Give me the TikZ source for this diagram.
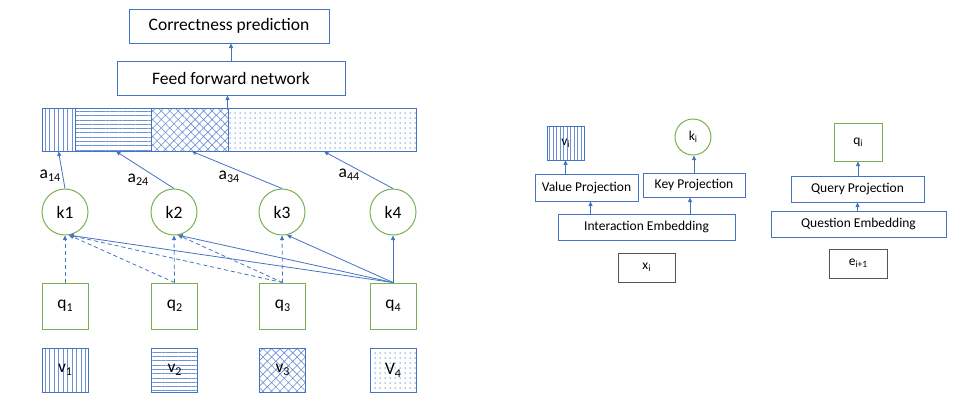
\documentclass[tikz,border=0pt]{standalone}
\usepackage{fontspec}
\setmainfont{Carlito}
\usetikzlibrary{arrows.meta,patterns.meta,calc}
\definecolor{bl}{RGB}{68,114,196}
\definecolor{lbl}{RGB}{110,145,210}
\definecolor{gr}{RGB}{122,176,82}
\definecolor{gy}{RGB}{85,85,85}
\newcommand\lsub[1]{\raisebox{-3pt}{\fontsize{12}{12}\selectfont #1}}
\newcommand\ssub[1]{\raisebox{-2.2pt}{\fontsize{9.5}{10}\selectfont #1}}
\begin{document}
\begin{tikzpicture}[x=1pt,y=-1pt,
  big/.style={font=\fontsize{17.5}{20}\selectfont},
  small/.style={font=\fontsize{13.5}{16}\selectfont},
  blbox/.style={draw=bl, line width=1pt, inner sep=0pt},
  gybox/.style={draw=gy, line width=1pt, inner sep=0pt},
  kcirc/.style={circle, draw=gr, line width=1pt, inner sep=0pt},
  qbox/.style={draw=gr, line width=1pt, inner sep=0pt},
  seg/.style={blbox, minimum height=43pt},
  vlines/.style={pattern={Lines[angle=90,distance=4.5pt,line width=0.7pt]}, pattern color=lbl},
  hlines/.style={pattern={Lines[angle=0,distance=4.3pt,line width=0.7pt]}, pattern color=lbl},
  xhatch/.style={pattern={Hatch[angle=45,distance=6pt,line width=0.6pt]}, pattern color=lbl},
  dotted4/.style={pattern={Dots[distance=5pt,radius=0.75pt]}, pattern color=lbl},
  arr/.style={-{Triangle[length=4.5pt,width=4pt]}, draw=bl, line width=0.8pt},
  dsh/.style={arr, dash pattern=on 4pt off 3pt}
]
\useasboundingbox (0,0) rectangle (976,408);

% top boxes
\node[blbox, big, minimum width=200pt, minimum height=34pt] (cp) at (229,26) {Correctness prediction};
\node[blbox, big, minimum width=228pt, minimum height=34pt] (ffn) at (231,78) {Feed forward network};

% bar
\node[seg, vlines, minimum width=33pt] (s1) at (58.5,129.5) {};
\node[seg, hlines, minimum width=76pt] (s2) at (113,129.5) {};
\node[seg, xhatch, minimum width=76.5pt] (s3) at (189.75,129.5) {};
\node[seg, dotted4, minimum width=188pt] (s4) at (322,129.5) {};

\draw[arr] (s4.north west) -- (s4.north west |- ffn.south);
\draw[arr] (ffn.north) -- (ffn.north |- cp.south);

% keys
\foreach \n/\x in {1/65,2/174,3/282,4/393}{
  \node[kcirc, big, minimum size=46pt] (k\n) at (\x,212) {k\n};
}
% queries
\foreach \n/\x in {1/65,2/174.5,3/282.5,4/393}{
  \node[qbox, big, minimum width=46pt, minimum height=46pt] (q\n) at (\x,306) {q\lsub{\n}};
}
% values
\node[blbox, big, vlines, minimum width=46pt, minimum height=44pt] (v1) at (65,370) {v\lsub{1}};
\node[blbox, big, hlines, minimum width=46pt, minimum height=44pt] (v2) at (174.5,370) {v\lsub{2}};
\node[blbox, big, xhatch, minimum width=46pt, minimum height=44pt] (v3) at (282.5,370) {v\lsub{3}};
\node[blbox, big, dotted4, minimum width=46pt, minimum height=44pt] (v4) at (393,370) {V\lsub{4}};

% attention arrows to bar
\draw[arr] (k1.north) -- (s1.south);
\draw[arr] (k2.north) -- ($(s2.south)+(3,0)$);
\draw[arr] (k3.north) -- ($(s3.south)+(2,0)$);
\draw[arr] (k4.north) -- ($(s4.south)+(2,0)$);
\node[big] (a14) at (50,176) {a\lsub{14}};
\node[big] (a24) at (138,180) {a\lsub{24}};
\node[big] (a34) at (229,177) {a\lsub{34}};
\node[big] (a44) at (349,175) {a\lsub{44}};

% query -> key connections
\draw[dsh] (q1.north) -- (k1.south);
\draw[dsh] (q2.north) -- (k1.-80);
\draw[dsh] (q2.north) -- (k2.south);
\draw[dsh] (q3.north) -- (k1.-80);
\draw[dsh] (q3.north) -- (k2.-80);
\draw[dsh] (q3.north) -- (k3.south);
\draw[arr] (q4.north) -- (k1.-80);
\draw[arr] (q4.north) -- (k2.-80);
\draw[arr] (q4.north) -- (k3.-78);
\draw[arr] (q4.north) -- (k4.south);

% right: interaction side
\node[blbox, small, pattern={Lines[angle=90,distance=3.5pt,line width=0.6pt]}, pattern color=lbl, minimum width=37pt, minimum height=34pt] (vi) at (565.5,143) {v\ssub{i}};
\node[kcirc, small, minimum size=36pt] (ki) at (693,137) {k\ssub{i}};
\node[blbox, small, minimum width=103pt, minimum height=27pt] (vp) at (586.5,187.5) {\raisebox{-3pt}{Value Projection}};
\node[blbox, small, minimum width=102pt, minimum height=24pt] (kp) at (694,185) {Key Projection};
\node[blbox, small, minimum width=177pt, minimum height=26pt] (ie) at (646.5,227) {Interaction Embedding};
\node[gybox, small, minimum width=57pt, minimum height=29pt] (xi) at (646.5,267.5) {x\ssub{i}};
\draw[arr] ([xshift=4pt]vp.south |- ie.north) -- ([xshift=4pt]vp.south);
\draw[arr] ([xshift=-4pt]kp.south |- ie.north) -- ([xshift=-4pt]kp.south);
\draw[arr] (vi.south |- vp.north) -- (vi.south);
\draw[arr] (kp.north) -- (kp.north |- ki.south);

% right: question side
\node[qbox, small, minimum width=48pt, minimum height=38pt] (qi) at (858,142) {q\ssub{i}};
\node[blbox, small, minimum width=133pt, minimum height=26pt] (qp) at (857.5,189) {Query Projection};
\node[blbox, small, minimum width=175pt, minimum height=26pt] (qe) at (858.5,224) {Question Embedding};
\node[gybox, small, minimum width=58pt, minimum height=29pt] (ei) at (858,263.5) {e\ssub{i+1}};
\draw[arr] (qp.south |- qe.north) -- (qp.south);
\draw[arr] (qi.south |- qp.north) -- (qi.south);
\end{tikzpicture}
\end{document}
